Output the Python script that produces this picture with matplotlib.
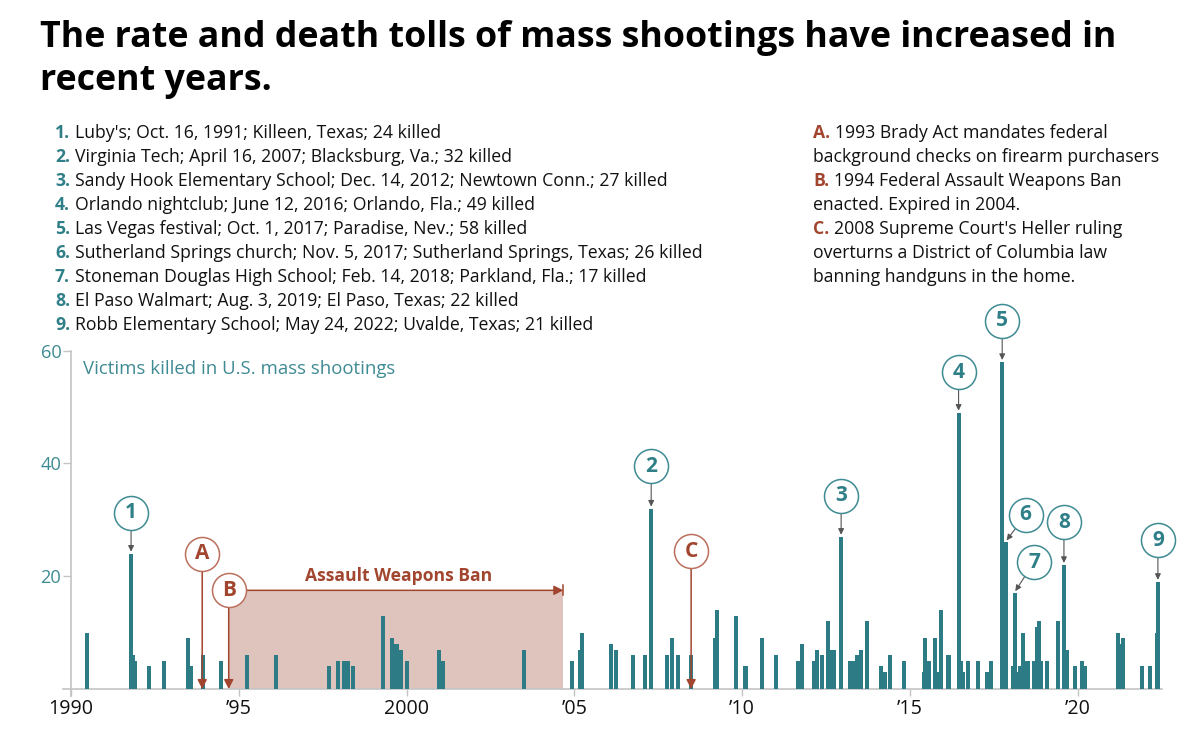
import matplotlib
matplotlib.use('Agg')
import matplotlib.pyplot as plt

FONT = ['Open Sans', 'DejaVu Sans']
plt.rcParams['font.family'] = FONT

TEAL = '#2d7b84'
TEAL_TXT = '#2f7f88'
TEAL_LIGHT = '#3f8b93'
RUST = '#a2452f'
RUST_LIGHT = '#bb6f5c'
SHADE = '#dfc4be'
GRID = '#c4c4c4'

# ---------------- data ----------------
dates = [1990.47, 1991.79, 1991.85, 1991.90, 1992.33, 1992.78, 1993.50, 1993.59,
         1993.93, 1994.46, 1995.24, 1996.10, 1997.69, 1997.95, 1998.15, 1998.24,
         1998.39, 1999.30, 1999.57, 1999.70, 1999.83, 2000.00, 2000.98, 2001.10,
         2003.51, 2004.93, 2005.16, 2005.22, 2006.08, 2006.24, 2006.75, 2007.11,
         2007.29, 2007.76, 2007.92, 2008.10, 2008.49, 2009.20, 2009.25, 2009.83,
         2010.10, 2010.58, 2011.00, 2011.67, 2011.78, 2012.13, 2012.24, 2012.38,
         2012.55, 2012.62, 2012.74, 2012.95, 2013.20, 2013.32, 2013.43, 2013.55,
         2013.71, 2014.15, 2014.26, 2014.40, 2014.81, 2015.42, 2015.46, 2015.56,
         2015.75, 2015.82, 2015.94, 2016.15, 2016.45, 2016.53, 2016.59, 2016.73,
         2017.02, 2017.30, 2017.43, 2017.75, 2017.85, 2018.08, 2018.12, 2018.19,
         2018.27, 2018.37, 2018.44, 2018.51, 2018.69, 2018.80, 2018.86, 2018.91,
         2019.08, 2019.40, 2019.59, 2019.67, 2019.93, 2020.14, 2020.21, 2021.20,
         2021.27, 2021.35, 2021.92, 2022.16, 2022.36, 2022.39]
killed = [10, 24, 6, 5, 4, 5, 9, 4,
          6, 5, 6, 6, 4, 5, 5, 5,
          4, 13, 9, 8, 7, 5, 7, 5,
          7, 5, 7, 10, 8, 7, 6, 6,
          32, 6, 9, 6, 6, 9, 14, 13,
          4, 9, 6, 5, 8, 5, 7, 6,
          12, 7, 7, 27, 5, 5, 6, 7,
          12, 4, 3, 6, 5, 3, 9, 5,
          9, 3, 14, 6, 49, 5, 3, 5,
          5, 3, 5, 58, 26, 4, 17, 3,
          4, 10, 5, 5, 5, 11, 12, 5,
          5, 12, 22, 7, 4, 5, 4, 10,
          8, 9, 4, 4, 10, 19]

event_nums = ['1', '2', '3', '4', '5', '6', '7', '8', '9']
event_texts = [
    "Luby's; Oct. 16, 1991; Killeen, Texas; 24 killed",
    "Virginia Tech; April 16, 2007; Blacksburg, Va.; 32 killed",
    "Sandy Hook Elementary School; Dec. 14, 2012; Newtown Conn.; 27 killed",
    "Orlando nightclub; June 12, 2016; Orlando, Fla.; 49 killed",
    "Las Vegas festival; Oct. 1, 2017; Paradise, Nev.; 58 killed",
    "Sutherland Springs church; Nov. 5, 2017; Sutherland Springs, Texas; 26 killed",
    "Stoneman Douglas High School; Feb. 14, 2018; Parkland, Fla.; 17 killed",
    "El Paso Walmart; Aug. 3, 2019; El Paso, Texas; 22 killed",
    "Robb Elementary School; May 24, 2022; Uvalde, Texas; 21 killed",
]
event_dates = [1991.79, 2007.29, 2012.95, 2016.45, 2017.75, 2017.85, 2018.12, 2019.59, 2022.39]
event_killed = [24, 32, 27, 49, 58, 26, 17, 22, 19]

policy_letters = ['A', 'B', 'C']
policy_lines = [
    ["1993 Brady Act mandates federal", "background checks on firearm purchasers"],
    ["1994 Federal Assault Weapons Ban", "enacted. Expired in 2004."],
    ["2008 Supreme Court's Heller ruling", "overturns a District of Columbia law",
     "banning handguns in the home."],
]
policy_dates = [1993.91, 1994.70, 2008.48]
ban_end = 2004.67

xticks = [1990, 1995, 2000, 2005, 2010, 2015, 2020]
xticklabels = ['1990', '\u201995', '2000', '\u201905', '\u201910', '\u201915', '\u201920']
yticks = [20, 40, 60]

title_lines = ["The rate and death tolls of mass shootings have increased in",
               "recent years."]
ylabel_text = "Victims killed in U.S. mass shootings"
ban_label = "Assault Weapons Ban"

# ---------------- layout ----------------
W, H = 1200, 736
fig = plt.figure(figsize=(W / 100, H / 100), dpi=100)
renderer = fig.canvas.get_renderer()


def fit(text, target_px, weight='normal'):
    t = fig.text(0, 0, text, fontsize=10, fontweight=weight)
    w = t.get_window_extent(renderer).width
    t.remove()
    return 10 * target_px / w


def fx(px):
    return px / W


def fy(py):
    return 1 - py / H


# title
tsize = fit(title_lines[0], 1080, 'bold')
fig.text(fx(40), fy(47), title_lines[0], fontsize=tsize, fontweight='bold', va='baseline', color='black')
fig.text(fx(40), fy(90), title_lines[1], fontsize=tsize, fontweight='bold', va='baseline', color='black')

# event list
lsize = fit("6. " + event_texts[5], 645)
for i, (n, t) in enumerate(zip(event_nums, event_texts)):
    y = 138 + 24 * i
    p = fig.text(fx(55), fy(y), n + '.', fontsize=lsize, fontweight='bold', color=TEAL_TXT, va='baseline')
    fig.add_artist(plt.Annotation(t, xy=(1, 0), xycoords=p, xytext=(3.5, 0), textcoords='offset points',
                                  fontsize=lsize, va='bottom', ha='left', color='#111'))

# policy list
rsize = fit(policy_lines[0][1], 346)
row = 0
for L, lines in zip(policy_letters, policy_lines):
    for j, line in enumerate(lines):
        y = 138 + 24 * row
        if j == 0:
            p = fig.text(fx(813), fy(y), L + '.', fontsize=rsize, fontweight='bold', color=RUST, va='baseline')
            fig.add_artist(plt.Annotation(line, xy=(1, 0), xycoords=p, xytext=(3.5, 0), textcoords='offset points',
                                          fontsize=rsize, va='bottom', ha='left', color='#111'))
        else:
            fig.text(fx(813), fy(y), line, fontsize=rsize, color='#111', va='baseline')
        row += 1

# axes
x0px, x1px = 63, 1162
px_per_year = (1077.7 - 71) / 30
xl = 1990 - (71 - x0px) / px_per_year
xr = 1990 + (x1px - 71) / px_per_year
px_per_unit = (689 - 350.7) / 60
ytop = 69
top_px = 689 - ytop * px_per_unit
ax = fig.add_axes([fx(x0px), fy(689), (x1px - x0px) / W, (689 - top_px) / H])
ax.set_xlim(xl, xr)
ax.set_ylim(0, ytop)
ax.patch.set_alpha(0)
for s in ['top', 'right']:
    ax.spines[s].set_visible(False)
ax.spines['left'].set_position(('data', 1990))
ax.spines['left'].set_bounds(-1.3, 60)
ax.spines['left'].set_color(GRID)
ax.spines['bottom'].set_color(GRID)
ax.spines['left'].set_linewidth(1.2)
ax.spines['bottom'].set_linewidth(1.2)
ax.set_yticks(yticks)
ax.set_yticklabels([str(v) for v in yticks])
ax.set_xticks(xticks)
ax.set_xticklabels(xticklabels)
ax.tick_params(axis='y', length=6, width=1, color=GRID, labelcolor=TEAL_LIGHT, labelsize=fit('60', 19) * 1.1, pad=1)
ax.tick_params(axis='x', length=5, width=1, color=GRID, labelcolor='#111', labelsize=fit('1990', 42) * 1.08, pad=2)

# bars
ax.bar(dates, killed, width=0.12, color=TEAL, linewidth=0, zorder=3)

# y label
ax.text(fx(83), fy(374), ylabel_text, transform=fig.transFigure, fontsize=fit(ylabel_text, 312),
        color=TEAL_LIGHT, va='baseline', ha='left')

# assault weapons ban shading
ban_top = 17.5
ax.fill_between([policy_dates[1], ban_end], 0, ban_top, color=SHADE, linewidth=0, zorder=1)
ax.annotate('', xy=(ban_end, ban_top), xytext=(policy_dates[1], ban_top),
            arrowprops=dict(arrowstyle='-|>,head_length=0.55,head_width=0.28', color=RUST, lw=1.1,
                            shrinkA=12.5, shrinkB=0), zorder=4)
ax.plot([ban_end, ban_end], [ban_top - 0.9, ban_top + 0.9], color=RUST, lw=1.1, zorder=4)
ax.text(1999.77, 19.2, ban_label, fontsize=fit(ban_label, 188, 'bold'), fontweight='bold',
        color=RUST, ha='center', va='baseline', zorder=5)

# policy markers A, B, C
policy_circle_y = [24.0, 17.5, 24.4]
for L, d, cy in zip(policy_letters, policy_dates, policy_circle_y):
    ax.annotate('', xy=(d, 0), xytext=(d, cy),
                arrowprops=dict(arrowstyle='-|>,head_length=0.55,head_width=0.28', color=RUST, lw=1.1,
                                shrinkA=12.5, shrinkB=0), zorder=4)
    ax.scatter([d], [cy], s=600, facecolor='white', edgecolor=RUST_LIGHT, linewidth=1.1, zorder=6, clip_on=False)
    ax.text(d, cy, L, fontsize=15, fontweight='bold', color=RUST, ha='center', va='center', zorder=7)

# event markers
circle_pos = [(1991.79, 31.3), (2007.29, 39.5), (2012.95, 34.3), (2016.45, 56.2), (2017.75, 65.3),
              (2018.45, 30.9), (2018.70, 22.5), (2019.59, 29.6), (2022.39, 26.4)]
tip_x = [1991.79, 2007.29, 2012.95, 2016.45, 2017.75, 2017.88, 2018.14, 2019.59, 2022.39]
for n, (cx, cy), tx, v in zip(event_nums, circle_pos, tip_x, event_killed):
    ax.annotate('', xy=(tx, v + 0.35), xytext=(cx, cy),
                arrowprops=dict(arrowstyle='-|>,head_length=0.35,head_width=0.17', color='#555', lw=0.8,
                                shrinkA=12.5, shrinkB=0), zorder=4)
    ax.scatter([cx], [cy], s=600, facecolor='white', edgecolor=TEAL_LIGHT, linewidth=1.1, zorder=6, clip_on=False)
    ax.text(cx, cy, n, fontsize=15, fontweight='bold', color=TEAL_TXT, ha='center', va='center', zorder=7)

fig.savefig('out.png', dpi=100)
